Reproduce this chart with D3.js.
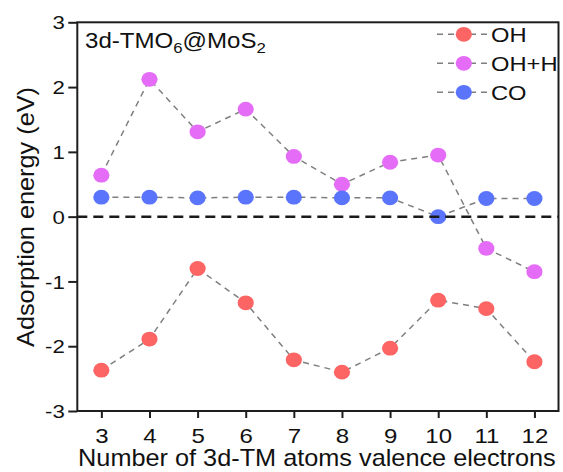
<!DOCTYPE html>
<html>
<head>
<meta charset="utf-8">
<script src="https://cdn.jsdelivr.net/npm/d3@7"></script>
<style>
  html, body { margin: 0; padding: 0; background: #fff; }
  svg { display: block; }
</style>
</head>
<body>
<script>
// Number of 3d-TM valence electrons (x categories)
const electrons = [3, 4, 5, 6, 7, 8, 9, 10, 11, 12];
// Adsorption energies (eV)
const ohValues  = [-2.37, -1.89, -0.80, -1.33, -2.21, -2.40, -2.03, -1.29, -1.42, -2.24];
const ohHValues = [0.64, 2.12, 1.31, 1.66, 0.93, 0.50, 0.84, 0.95, -0.49, -0.85];
const coValues  = [0.30, 0.30, 0.29, 0.30, 0.30, 0.29, 0.29, 0.00, 0.28, 0.28];
const seriesNames = ["OH", "OH+H", "CO"];
const seriesColors = ["#fd6464", "#e46cf6", "#5a74fb"];
const yTicks = [-3, -2, -1, 0, 1, 2, 3];
const xTicks = electrons;

const W = 563, H = 472;
const plotLeft = 77.3, plotRight = 558.5, plotTop = 22.3, plotBottom = 411;
const FONT = "'Liberation Sans', Arial, sans-serif";

const svg = d3.select("body").append("svg")
  .attr("width", W).attr("height", H);

const x = d3.scaleLinear().domain([2.5, 12.5]).range([plotLeft, plotRight]);
const y = d3.scaleLinear().domain([-3, 3]).range([plotBottom, plotTop]);

const series = [
  { name: seriesNames[0], color: seriesColors[0], values: ohValues },
  { name: seriesNames[1], color: seriesColors[1], values: ohHValues },
  { name: seriesNames[2], color: seriesColors[2], values: coValues }
];

// Tick labels use a plain hyphen for negatives
const plainNumber = d => String(d);

// Y axis
const yAxis = svg.append("g")
  .attr("transform", `translate(${plotLeft},0)`)
  .call(d3.axisLeft(y).tickValues(yTicks).tickSize(9).tickSizeOuter(0).tickFormat(plainNumber));
yAxis.select(".domain").remove();
yAxis.selectAll("line").attr("stroke", "#1e1e1e").attr("stroke-width", 2);
yAxis.selectAll("text")
  .attr("x", 0).attr("dy", "0.36em")
  .attr("transform", "translate(-12.5,0) scale(1.2,1)")
  .attr("fill", "#111")
  .style("font-family", FONT).style("font-size", "18.5px");

// X axis
const xAxis = svg.append("g")
  .attr("transform", `translate(0,${plotBottom})`)
  .call(d3.axisBottom(x).tickValues(xTicks).tickSize(7).tickSizeOuter(0).tickFormat(plainNumber));
xAxis.select(".domain").remove();
xAxis.selectAll("line").attr("stroke", "#1e1e1e").attr("stroke-width", 2);
xAxis.selectAll("text")
  .attr("y", 0).attr("dy", 0)
  .attr("transform", "translate(0,31.5) scale(1.2,1)")
  .attr("fill", "#111")
  .style("font-family", FONT).style("font-size", "20px");

// Plot frame
svg.append("rect")
  .attr("x", plotLeft).attr("y", plotTop)
  .attr("width", plotRight - plotLeft).attr("height", plotBottom - plotTop)
  .attr("fill", "none").attr("stroke", "#1e1e1e").attr("stroke-width", 2);

// Series: dashed connectors and markers
const line = d3.line().x((d, i) => x(electrons[i])).y(d => y(d));
series.forEach(s => {
  svg.append("path")
    .datum(s.values)
    .attr("d", line)
    .attr("fill", "none")
    .attr("stroke", "#7f7f7f")
    .attr("stroke-width", 1.5)
    .attr("stroke-dasharray", "6,5");
});
series.forEach(s => {
  svg.append("g").selectAll("ellipse")
    .data(s.values)
    .join("ellipse")
    .attr("cx", (d, i) => x(electrons[i]))
    .attr("cy", d => y(d))
    .attr("rx", 8.1).attr("ry", 7.4)
    .attr("fill", s.color);
});

// Zero reference line
svg.append("line")
  .attr("x1", plotLeft).attr("x2", plotRight)
  .attr("y1", y(0)).attr("y2", y(0))
  .attr("stroke", "#1a1a1a")
  .attr("stroke-width", 2.5)
  .attr("stroke-dasharray", "10,6");

// Title with subscripts
const title = svg.append("text")
  .attr("transform", "translate(85,48.3) scale(1.12,1)")
  .attr("fill", "#111")
  .style("font-family", FONT).style("font-size", "21.5px");
title.append("tspan").text("3d-TMO");
title.append("tspan").attr("dy", 5).style("font-size", "15px").text("6");
title.append("tspan").attr("dy", -5).text("@MoS");
title.append("tspan").attr("dy", 5).style("font-size", "15px").text("2");

// Legend
const legend = svg.append("g");
series.forEach((s, i) => {
  const cy = 34.3 + i * 29;
  legend.append("line")
    .attr("x1", 437).attr("x2", 490)
    .attr("y1", cy).attr("y2", cy)
    .attr("stroke", "#7f7f7f").attr("stroke-width", 1.5)
    .attr("stroke-dasharray", "6,5");
  legend.append("ellipse")
    .attr("cx", 463.8).attr("cy", cy)
    .attr("rx", 8.1).attr("ry", 7.4)
    .attr("fill", s.color);
  legend.append("text")
    .attr("transform", `translate(491,${cy + 7.6}) scale(1.13,1)`)
    .attr("fill", "#111")
    .style("font-family", FONT).style("font-size", "21px")
    .text(s.name);
});

// Axis titles
svg.append("text")
  .attr("transform", `translate(${(plotLeft + plotRight) / 2 - 1},466) scale(1.1,1)`)
  .attr("text-anchor", "middle")
  .attr("fill", "#111")
  .style("font-family", FONT).style("font-size", "23px")
  .text("Number of 3d-TM atoms valence electrons");

svg.append("text")
  .attr("transform", "translate(33.5,217) rotate(-90) scale(1.1,1)")
  .attr("text-anchor", "middle")
  .attr("fill", "#111")
  .style("font-family", FONT).style("font-size", "23px")
  .text("Adsorption energy (eV)");
</script>
</body>
</html>
